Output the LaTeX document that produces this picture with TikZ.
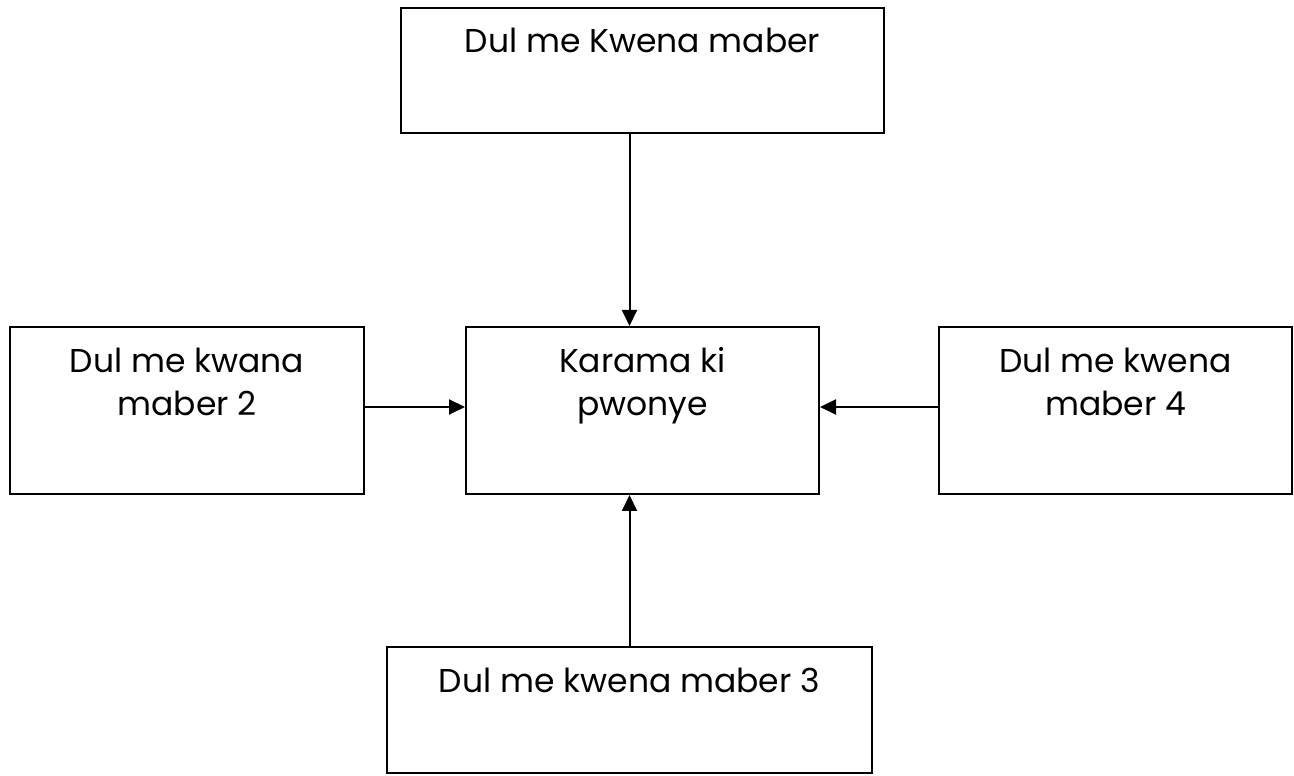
\documentclass[tikz,border=0pt]{standalone}
\usepackage{fontspec}
\setmainfont{Poppins}
\usetikzlibrary{arrows.meta,calc}
\begin{document}
\begin{tikzpicture}[x=1pt,y=1pt,
  box/.style={draw=black,line width=2pt,minimum width=#1,inner sep=0pt},
  lbl/.style={anchor=base,align=center,inner sep=0pt,font=\fontsize{33}{43}\selectfont},
  arr/.style={line width=2pt,-{Triangle[length=16pt,width=15pt]}}]
\useasboundingbox (0,0) rectangle (1294,776);
\node[box=483pt,minimum height=125pt] (top) at (642.5,705.5) {};
\node[box=354pt,minimum height=167pt] (left) at (187,365.5) {};
\node[box=353pt,minimum height=167pt] (center) at (642.5,365.5) {};
\node[box=353pt,minimum height=167pt] (right) at (1115.5,365.5) {};
\node[box=485pt,minimum height=126pt] (bot) at (629.5,66) {};
\node[lbl] (ttop) at (642.5,723) {Dul me Kwena maber};
\node[lbl] (tleft) at (187,360) {Dul me kwana\\maber 2};
\node[lbl] (tcenter) at (642.5,360) {Karama ki\\pwonye};
\node[lbl] (tright) at (1115.5,360) {Dul me kwena\\maber 4};
\node[lbl] (tbot) at (629.5,83) {Dul me kwena maber 3};
\draw[arr] (top.south -| bot.north) -- (center.north -| bot.north);
\draw[arr] (bot.north) -- (center.south -| bot.north);
\draw[arr] ([yshift=3.5pt]left.east) -- ([yshift=3.5pt]center.west);
\draw[arr] ([yshift=3.5pt]right.west) -- ([yshift=3.5pt]center.east);
\end{tikzpicture}
\end{document}
